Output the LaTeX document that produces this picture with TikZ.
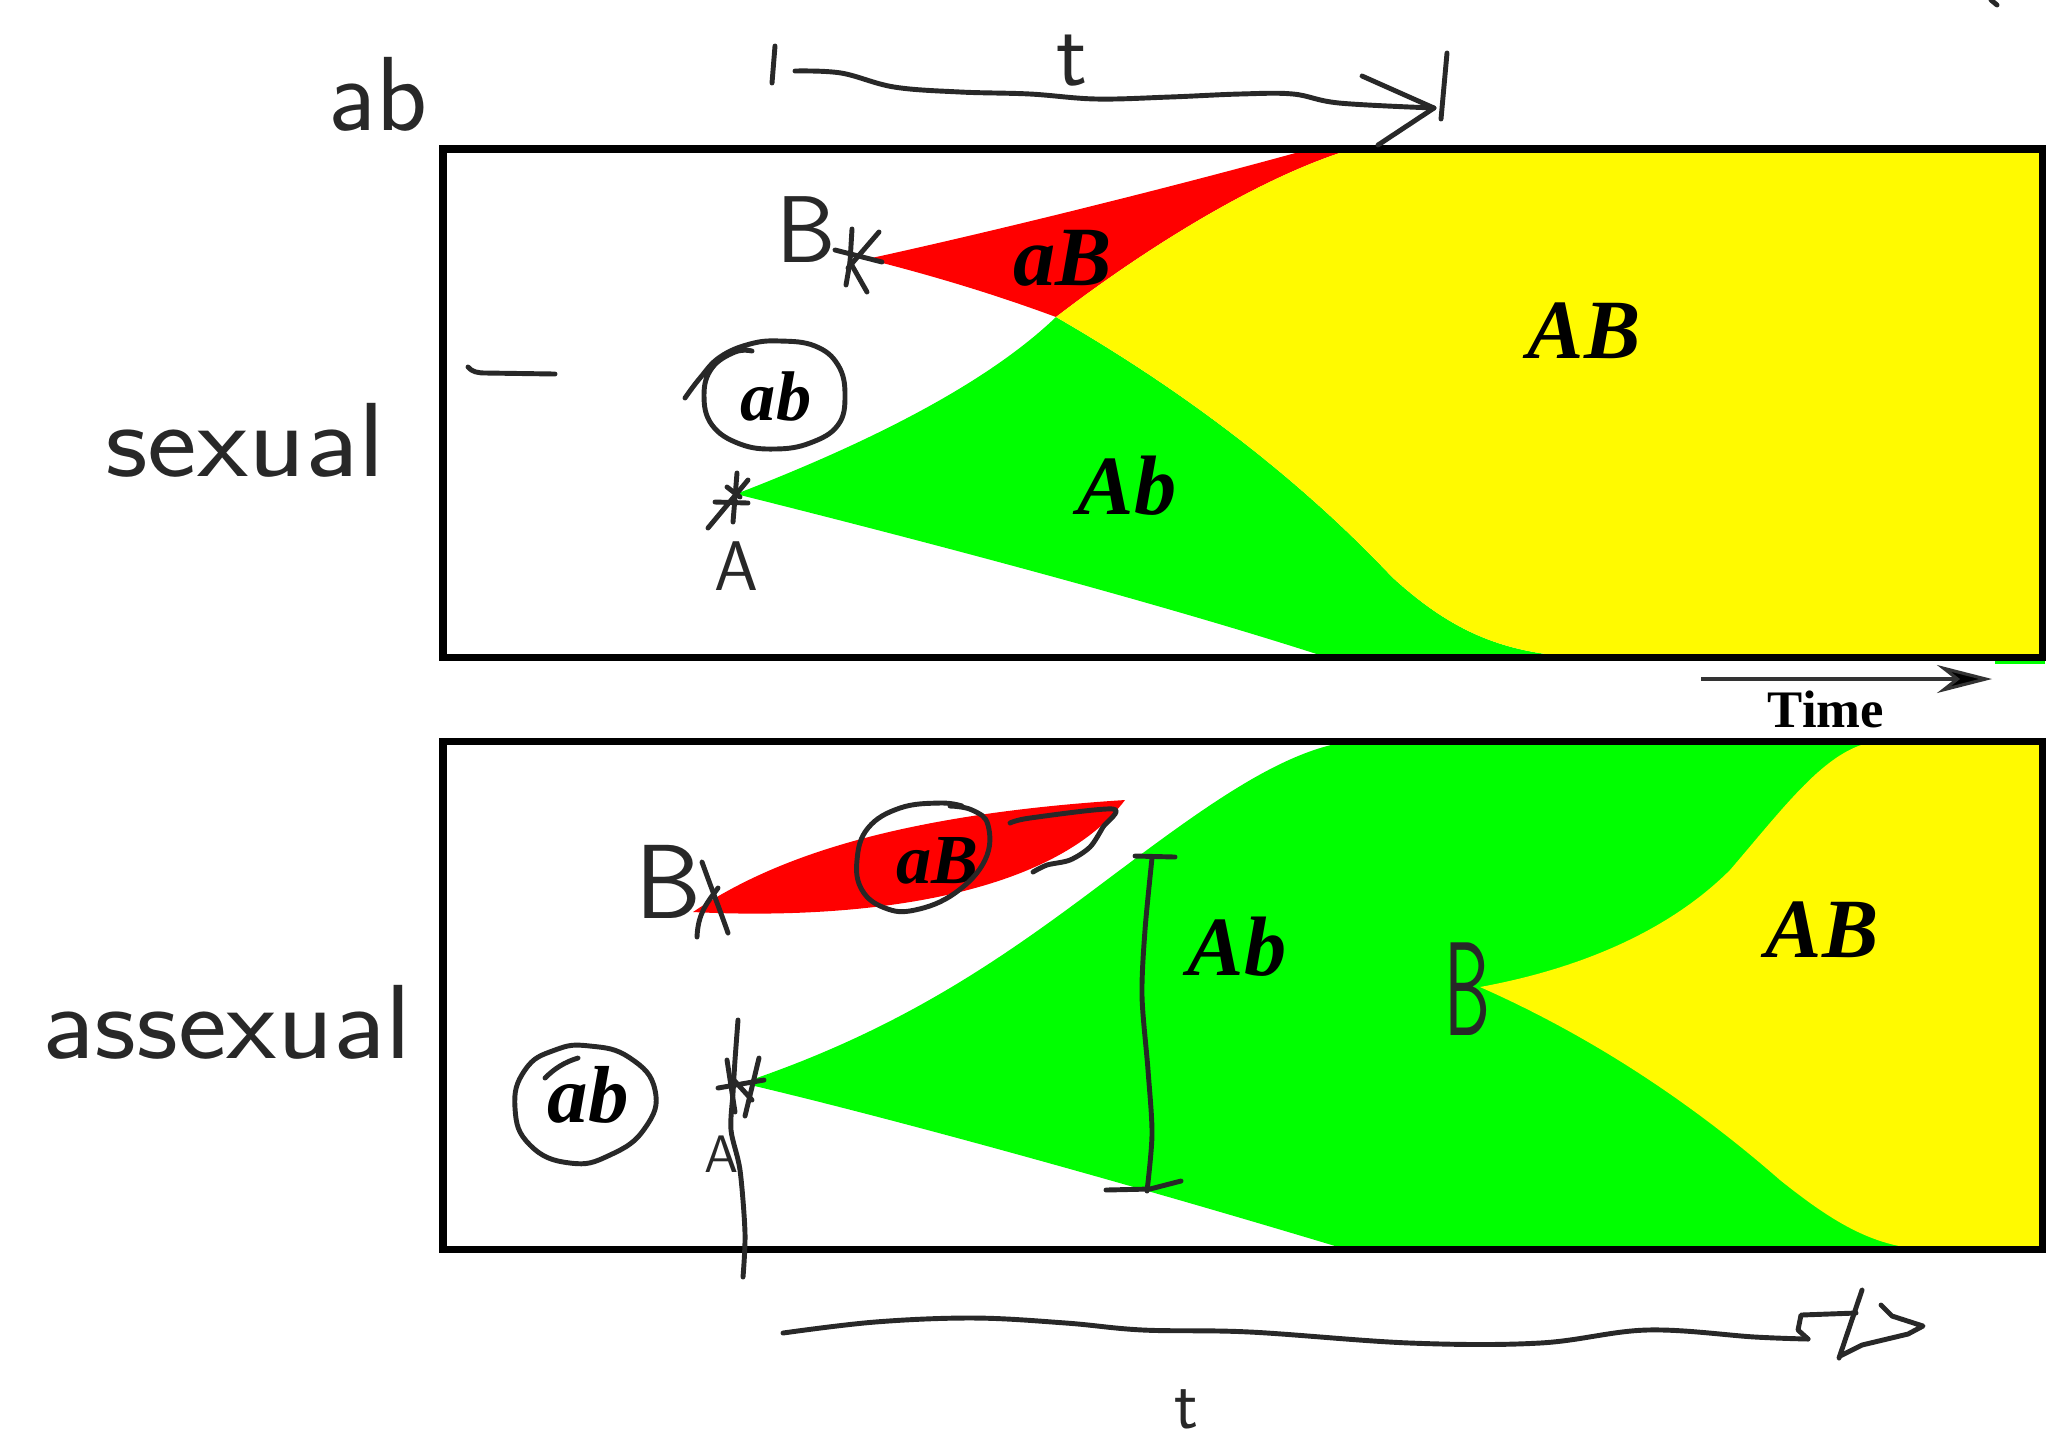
\documentclass[tikz,border=0pt]{standalone}
\usepackage{fontspec}
\newfontfamily\tms{Liberation Serif}
\usetikzlibrary{arrows.meta}
\definecolor{gr}{RGB}{0,255,0}
\definecolor{yl}{RGB}{255,250,0}
\definecolor{rd}{RGB}{255,0,0}
\definecolor{ink}{RGB}{40,40,40}
\newcommand\hfs[1]{\fontsize{#1}{#1}\selectfont}
\begin{document}
\begin{tikzpicture}[x=0.1mm,y=-0.1mm,
  hand/.style={draw=ink,line width=1.4pt,line cap=round,line join=round},
  lab/.style={font=\tms\bfseries\itshape\hfs{24}, anchor=base, inner sep=0pt},
  hw/.style={text=ink, font=\sffamily\hfs{30}, anchor=base, inner sep=0pt},
  frame/.style={draw=black,line width=2pt}]
\useasboundingbox (0,0) rectangle (2060,1441);
\fill[white] (0,0) rectangle (2060,1441);

% ---------- top panel (sexual) ----------
\fill[gr] (736,494) .. controls (850,450) and (980,390) .. (1056,317)
  .. controls (1200,400) and (1310,490) .. (1392,577)
  .. controls (1450,630) and (1500,652) .. (1575,657)
  -- (1326,657) .. controls (1150,600) and (900,535) .. (736,494) -- cycle;
\fill[rd] (867,259) .. controls (1000,230) and (1180,185) .. (1310,149) -- (1352,149)
  .. controls (1250,180) and (1130,260) .. (1056,317)
  .. controls (1010,300) and (950,280) .. (867,259) -- cycle;
\fill[yl] (1352,149) -- (2042,149) -- (2042,657) -- (1575,657)
  .. controls (1500,652) and (1450,630) .. (1392,577)
  .. controls (1310,490) and (1200,400) .. (1056,317)
  .. controls (1130,260) and (1250,180) .. (1352,149) -- cycle;
\draw[gr,line width=1pt] (1995,662) -- (2045,662);
\draw[frame] (443,149) rectangle (2042,657);

% ---------- bottom panel (asexual) ----------
\fill[gr] (742,1083) .. controls (900,1030) and (1000,960) .. (1100,885)
  .. controls (1200,810) and (1280,750) .. (1352,741)
  -- (2042,741) -- (2042,1249) -- (1345,1249)
  .. controls (1150,1190) and (900,1120) .. (742,1083) -- cycle;
\fill[yl] (1480,987) .. controls (1600,965) and (1680,920) .. (1730,870)
  .. controls (1790,800) and (1830,745) .. (1880,741)
  -- (2042,741) -- (2042,1249) -- (1920,1249)
  .. controls (1870,1245) and (1830,1220) .. (1780,1180)
  .. controls (1700,1110) and (1600,1040) .. (1480,987) -- cycle;
\fill[rd] (693,912) .. controls (770,860) and (890,815) .. (1125,800)
  .. controls (1050,900) and (850,920) .. (693,912) -- cycle;
\draw[frame] (443,741) rectangle (2042,1249);

% ---------- typeset labels ----------
\node[lab] (aBtop) at (1063,285) {aB};
\node[lab] (ABtop) at (1584,358) {AB};
\node[lab] (Abtop) at (1127,514) {Ab};
\node[lab,font=\tms\bfseries\itshape\hfs{20}] (abtop) at (776,420) {ab};
\node[lab,font=\tms\bfseries\itshape\hfs{20}] (aBbot) at (937,883) {aB};
\node[lab,font=\tms\bfseries\itshape\hfs{23}] (abbot) at (588,1122) {ab};
\node[lab] (Abbot) at (1237,975) {Ab};
\node[lab] (ABbot) at (1822,957) {AB};
\node[anchor=base,inner sep=0pt,font=\tms\bfseries\hfs{15}] (time) at (1826,727) {Time};
\coordinate (tm0) at (1701,679);
\coordinate (tm1) at (1992,679);
\draw[draw=black!80,line width=0.9pt,-{Stealth[length=5.5mm,width=2.8mm,fill=black]}] (tm0) -- (tm1);

% ---------- handwritten labels ----------
\node[hw] (hab) at (378,130) {ab};
\node[hw,xscale=1.12] (hsex) at (245,476) {sexual};
\node[hw,xscale=1.1] (hasex) at (227,1058) {assexual};
\node[hw,font=\sffamily\hfs{27}] (hB1) at (806,262) {B};
\node[hw,font=\sffamily\hfs{20}] (hA1) at (736,590) {A};
\node[hw,font=\sffamily\hfs{30}] (hB2) at (668,918) {B};
\node[hw,font=\sffamily\hfs{15}] (hA2) at (722,1172) {A};
\node[hw,font=\sffamily\hfs{26}] (ht1) at (1072,85) {t};
\node[hw,font=\sffamily\hfs{20}] (ht2) at (1186,1428) {t};
\node[hw,font=\sffamily\hfs{38},xscale=0.55] (hB3) at (1467,1035) {B};

% ---------- handwritten strokes ----------
% top time arrow
\draw[hand] (775,46) -- (772,83);
\draw[hand] plot[smooth,tension=0.6] coordinates {(795,71) (841,73) (894,87) (960,92) (1030,94) (1096,99) (1170,97) (1240,94) (1293,94) (1339,103) (1434,108)};
\draw[hand] (1362,76) -- (1434,108) -- (1378,145);
\draw[hand] (1447,53) -- (1441,119);
% small dash
\draw[hand] (468,367) .. controls (472,372) and (478,373) .. (486,373) -- (555,374);
% top B star
\draw[hand] (852,229) -- (850,262) -- (846,285);
\draw[hand] (879,232) -- (848,268);
\draw[hand] (835,250) -- (882,262);
\draw[hand] (850,262) -- (867,292);
% top A star
\draw[hand] (737,473) -- (733,522);
\draw[hand] (748,480) -- (708,528);
\draw[hand] (715,502) -- (748,503);
\draw[hand] (727,487) -- (740,497);
% circle round top ab
\draw[hand] plot[smooth,tension=0.7] coordinates {(685,398) (700,378) (720,357) (750,344) (780,341) (815,346) (838,365) (845,395) (838,425) (810,443) (775,449) (740,444) (712,425) (704,395) (712,368) (735,352) (752,351)};
% bottom B mark
\draw[hand] (702,862) .. controls (712,890) and (720,910) .. (728,933);
\draw[hand] (718,888) .. controls (705,905) and (698,915) .. (697,937);
% circle round bottom aB and extra stroke
\draw[hand] plot[smooth,tension=0.7] coordinates {(962,806) (940,803) (900,808) (868,828) (857,860) (862,890) (885,908) (915,910) (955,893) (985,860) (988,825) (972,810) (950,806)};
\draw[hand] plot[smooth,tension=0.5] coordinates {(1010,823) (1030,818) (1113,809) (1103,827) (1090,847) (1070,860) (1047,865) (1033,872)};
% bracket
\draw[hand] plot[smooth] coordinates {(1152,858) (1145,930) (1142,996) (1148,1070) (1152,1134) (1147,1191)};
\draw[hand] (1135,856) -- (1175,857);
\draw[hand] (1106,1190) -- (1150,1189) -- (1181,1181);
% bottom A line and star
\draw[hand] plot[smooth] coordinates {(738,1020) (735,1060) (733,1093) (731,1130) (740,1170) (745,1233) (743,1277)};
\draw[hand] (727,1060) -- (735,1112);
\draw[hand] (759,1058) -- (745,1116);
\draw[hand] (718,1088) -- (764,1080);
\draw[hand] (732,1078) -- (752,1100);
% circle round bottom ab
\draw[hand] plot[smooth cycle,tension=0.8] coordinates {(590,1046) (630,1058) (655,1090) (645,1128) (610,1155) (570,1163) (530,1145) (515,1108) (525,1070) (555,1050)};
\draw[hand] (545,1078) .. controls (555,1068) and (565,1062) .. (578,1058);
% bottom time arrow
\draw[hand] plot[smooth,tension=0.6] coordinates {(783,1333) (875,1322) (974,1318) (1066,1323) (1143,1330) (1250,1332) (1410,1343) (1540,1343) (1647,1330) (1755,1337) (1808,1339)};
\draw[hand] (1808,1339) -- (1798,1330) -- (1801,1315) -- (1856,1313);
\draw[hand] (1881,1305) -- (1892,1316) -- (1923,1326) -- (1908,1334) -- (1862,1345) -- (1840,1356);
\draw[hand] (1862,1290) -- (1839,1358);
% tiny mark top right
\draw[hand] (1991,0) -- (1997,5);
\end{tikzpicture}
\end{document}
